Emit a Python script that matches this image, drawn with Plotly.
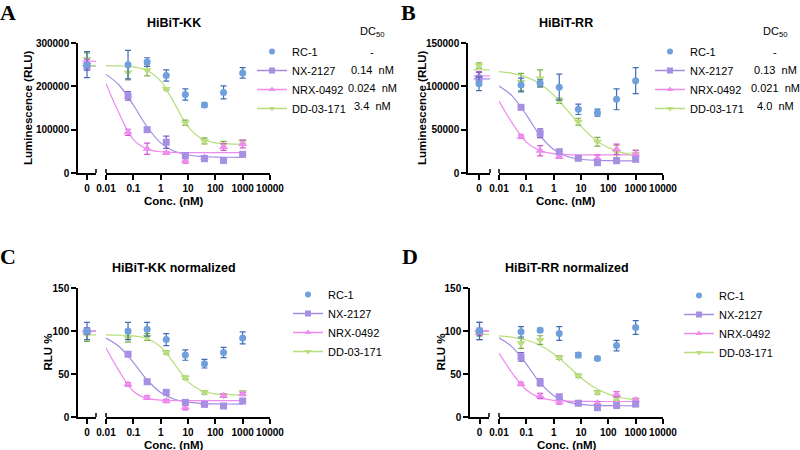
import plotly.graph_objects as go

W, H = 800, 450

# concentrations (nM); the first one (0) sits on the short left axis segment
conc = [0, 0.064, 0.32, 1.6, 8, 40, 200, 1000]
fit_conc = [0.01, 0.03, 0.1, 0.3, 1, 3, 10, 30, 100, 300, 1000]
fit_left_x = [-0.5, 1.0]
compounds = ["RC-1", "NX-2127", "NRX-0492", "DD-03-171"]

# ---- A: HiBiT-KK (RLU)
kk_rc1 = [250000, 250000, 256000, 225000, 181000, 157000, 186000, 231000]
kk_rc1_sd = [30000, 33000, 10000, 13000, 13000, 5000, 15000, 12000]
kk_nx = [245000, 178000, 100000, 71000, 40000, 33000, 29000, 43000]
kk_nx_sd = [8000, 10000, 4000, 14000, 6000, 3000, 3000, 3000]
kk_nrx = [256000, 94000, 56000, 46000, 29000, 36000, 60000, 67000]
kk_nrx_sd = [6000, 7000, 13000, 3000, 6000, 4000, 8000, 9000]
kk_dd = [263000, 232000, 237000, 194000, 116000, 74000, 65000, 72000]
kk_dd_sd = [14000, 17000, 13000, 3000, 6000, 7000, 8000, 4000]
kk_fit_nx = [227600, 203000, 157000, 109000, 69500, 50600, 41500, 38200, 36800, 36300, 36100]
kk_fit_nrx = [206000, 138000, 77500, 55700, 49000, 47500, 47100, 47000, 47000, 47000, 47000]
kk_fit_dd = [248000, 247200, 245000, 237500, 212000, 163500, 106800, 79800, 69600, 67300, 66300]
kk_fit_top = [247000, 258000, 248000]
kk_dc50 = ["-", "0.14\u00a0\u00a0nM", "0.024\u00a0\u00a0nM", "3.4\u00a0\u00a0nM"]

# ---- B: HiBiT-RR (RLU)
rr_rc1 = [103000, 101500, 103500, 99000, 73500, 69600, 85000, 106500]
rr_rc1_sd = [8000, 8000, 4000, 15000, 6000, 4000, 12000, 15000]
rr_nx = [109000, 75800, 45800, 24600, 17000, 11900, 14200, 15800]
rr_nx_sd = [7000, 2000, 5000, 2000, 2000, 3000, 3000, 2000]
rr_nrx = [112000, 41900, 25700, 18800, 17000, 17000, 27300, 22000]
rr_nrx_sd = [5000, 2000, 6000, 2000, 2000, 4000, 6000, 4000]
rr_dd = [124000, 105000, 109000, 83400, 59200, 36000, 24000, 22000]
rr_dd_sd = [3000, 10000, 10000, 3000, 4000, 5000, 8000, 4000]
rr_fit_nx = [100400, 89000, 67000, 44400, 27100, 19300, 15900, 14700, 14300, 14100, 14000]
rr_fit_nrx = [83100, 57900, 35600, 26100, 22300, 21300, 20900, 20800, 20800, 20800, 20800]
rr_fit_dd = [117000, 115000, 110600, 103200, 89800, 73200, 53900, 39400, 29100, 23800, 20700]
rr_fit_top = [108500, 112000, 119000]
rr_dc50 = ["-", "0.13\u00a0\u00a0nM", "0.021\u00a0\u00a0nM", "4.0\u00a0\u00a0nM"]

# ---- C: HiBiT-KK normalized (%)
kkn_rc1 = [100, 100, 102, 90, 72, 62, 75, 92]
kkn_rc1_sd = [10, 10, 8, 7, 6, 5, 6, 7]
kkn_nx = [100, 73, 41, 28.7, 17, 14.7, 12.8, 18.6]
kkn_nx_sd = [4, 2, 2, 3, 2, 2, 2, 2]
kkn_nrx = [100, 38, 22.5, 18.6, 11.2, 16, 24.8, 26.7]
kkn_nrx_sd = [3, 2, 2, 2, 3, 2, 2, 2]
kkn_dd = [96, 92, 93, 75, 45.7, 28.7, 25, 28.7]
kkn_dd_sd = [8, 5, 4, 2, 2, 2, 2, 2]
kkn_fit_nx = [91.8, 81.9, 63.5, 44.2, 28.4, 20.9, 17.2, 15.9, 15.3, 15.1, 15.05]
kkn_fit_nrx = [80.3, 53.7, 30, 21.9, 19.6, 19.1, 19, 19, 19, 19, 19]
kkn_fit_dd = [95.5, 95.2, 94.3, 91.4, 81.7, 63, 41.2, 30.8, 26.9, 26, 25.6]
kkn_fit_top = [100, 100, 95.5]

# ---- D: HiBiT-RR normalized (%)
rrn_rc1 = [100, 99, 101, 97, 72, 68, 83, 104]
rrn_rc1_sd = [10, 6, 2, 8, 3, 2, 6, 8]
rrn_nx = [100, 70, 40.3, 23.6, 16, 10.8, 13.4, 15]
rrn_nx_sd = [10, 5, 4, 2, 2, 3, 2, 2]
rrn_nrx = [99, 38.4, 24.4, 17.8, 16, 16, 26.4, 19.8]
rrn_nrx_sd = [4, 2, 3, 3, 2, 2, 3, 2]
rrn_dd = [97, 85.7, 89.5, 69, 48, 28.7, 21.7, 19.8]
rrn_dd_sd = [3, 6, 5, 2, 2, 2, 2, 2]
rrn_fit_nx = [92.1, 81.6, 61.6, 40.8, 25, 17.9, 14.7, 13.6, 13.2, 13.1, 13]
rrn_fit_nrx = [74.2, 51.4, 31.4, 22.8, 19.4, 18.5, 18.2, 18.1, 18, 18, 18]
rrn_fit_dd = [94.4, 92.9, 89.5, 83.8, 73.5, 60.7, 45.7, 34.5, 26.6, 22.4, 20.1]
rrn_fit_top = [100, 100, 96]

log_ticks = [0.01, 0.1, 1, 10, 100, 1000, 10000]
log_ticktext = ["0.01", "0.1", "1", "10", "100", "1000", "10000"]

# styles
SYM = {"RC-1": "circle", "NX-2127": "square", "NRX-0492": "triangle-up", "DD-03-171": "triangle-down"}
MCOL = {"RC-1": "#6F9FDC", "NX-2127": "#A78FE3", "NRX-0492": "#F08CF0", "DD-03-171": "#BADF7E"}
ECOL = {"RC-1": "#3F6DB6", "NX-2127": "#7D5FC4", "NRX-0492": "#D455D4", "DD-03-171": "#7CAE48"}
LCOL = {"NX-2127": "#A28DE2", "NRX-0492": "#EF8AEF", "DD-03-171": "#B6DE7A"}
MSIZE = {"RC-1": 7, "NX-2127": 7, "NRX-0492": 8, "DD-03-171": 8}

SANS = "Arial, Liberation Sans, sans-serif"
SERIF = "Times New Roman, Liberation Serif, serif"


def px(x):
    return x / W


def py(y):
    return 1 - y / H


def ax(prefix, n):
    # plotly names the first axis "x"/"y", then "x2", "x3", ...
    return prefix if n == 1 else "%s%d" % (prefix, n)


def label(text, x, y, size, family=SANS, angle=0):
    return dict(text=text, x=px(x), y=py(y), xref="paper", yref="paper", showarrow=False,
                xanchor="center", yanchor="middle", textangle=angle,
                font=dict(family=family, size=size, color="black"))


panels = [
    dict(letter="A", title="HiBiT-KK", ytitle="Luminescence (RLU)",
         yticks=[0, 100000, 200000, 300000],
         means=[kk_rc1, kk_nx, kk_nrx, kk_dd], sds=[kk_rc1_sd, kk_nx_sd, kk_nrx_sd, kk_dd_sd],
         fits=[kk_fit_nx, kk_fit_nrx, kk_fit_dd], tops=kk_fit_top, dc50=kk_dc50,
         g=dict(yx=78, lend=96, rstart=106, rend=270, ytop=43, ybot=173, ytl=28,
                leg=252, legy=37, dcx=372, lx=8, ly=13)),
    dict(letter="B", title="HiBiT-RR", ytitle="Luminescence (RLU)",
         yticks=[0, 50000, 100000, 150000],
         means=[rr_rc1, rr_nx, rr_nrx, rr_dd], sds=[rr_rc1_sd, rr_nx_sd, rr_nrx_sd, rr_dd_sd],
         fits=[rr_fit_nx, rr_fit_nrx, rr_fit_dd], tops=rr_fit_top, dc50=rr_dc50,
         g=dict(yx=468, lend=490, rstart=499, rend=663, ytop=43, ybot=173, ytl=422,
                leg=650, legy=37, dcx=775, lx=408, ly=13)),
    dict(letter="C", title="HiBiT-KK normalized", ytitle="RLU %",
         yticks=[0, 50, 100, 150],
         means=[kkn_rc1, kkn_nx, kkn_nrx, kkn_dd], sds=[kkn_rc1_sd, kkn_nx_sd, kkn_nrx_sd, kkn_dd_sd],
         fits=[kkn_fit_nx, kkn_fit_nrx, kkn_fit_dd], tops=kkn_fit_top, dc50=None,
         g=dict(yx=78, lend=96, rstart=106, rend=270, ytop=288, ybot=417, ytl=47,
                leg=288, legy=280, dcx=None, lx=8, ly=256)),
    dict(letter="D", title="HiBiT-RR normalized", ytitle="RLU %",
         yticks=[0, 50, 100, 150],
         means=[rrn_rc1, rrn_nx, rrn_nrx, rrn_dd], sds=[rrn_rc1_sd, rrn_nx_sd, rrn_nrx_sd, rrn_dd_sd],
         fits=[rrn_fit_nx, rrn_fit_nrx, rrn_fit_dd], tops=rrn_fit_top, dc50=None,
         g=dict(yx=470, lend=489, rstart=499, rend=663, ytop=288, ybot=417, ytl=440,
                leg=679, legy=281, dcx=None, lx=410, ly=256)),
]

fig = go.Figure()
annotations = []
shapes = []
layout = {}

for i, p in enumerate(panels):
    g = p["g"]
    nl, nr, ny = 2 * i + 1, 2 * i + 2, i + 1
    xl, xr, yy = ax("x", nl), ax("x", nr), ax("y", ny)
    legname = ax("legend", i + 1)
    ymax = p["yticks"][-1]

    axis_common = dict(showline=True, linecolor="black", linewidth=1.5, ticks="outside",
                       ticklen=5, tickwidth=1.5, tickcolor="black", showgrid=False,
                       zeroline=False, tickangle=0, automargin=False,
                       tickfont=dict(family=SANS, size=10, color="black", weight="bold"))

    layout[ax("xaxis", nl)] = dict(axis_common, domain=[px(g["yx"]), px(g["lend"])],
                                   range=[-1, 1], tickvals=[0], ticktext=["0"], anchor=yy)
    layout[ax("xaxis", nr)] = dict(axis_common, domain=[px(g["rstart"]), px(g["rend"])],
                                   type="log", range=[-2, 4], tickvals=log_ticks,
                                   ticktext=log_ticktext, anchor=yy)
    layout[ax("yaxis", ny)] = dict(axis_common, domain=[py(g["ybot"]), py(g["ytop"])],
                                   range=[0, ymax], tickvals=p["yticks"],
                                   ticktext=[str(v) for v in p["yticks"]], anchor=xl)

    # fitted curves
    for name, fit, top in zip(compounds[1:], p["fits"], p["tops"]):
        fig.add_trace(go.Scatter(x=fit_conc, y=fit, mode="lines", xaxis=xr, yaxis=yy,
                                 line=dict(color=LCOL[name], width=1.2, shape="spline"),
                                 showlegend=False, hoverinfo="skip"))
        fig.add_trace(go.Scatter(x=fit_left_x, y=[top, top], mode="lines", xaxis=xl, yaxis=yy,
                                 line=dict(color=LCOL[name], width=1.2),
                                 showlegend=False, hoverinfo="skip"))

    # data points, drawn back to front
    for k in [3, 2, 1, 0]:
        name = compounds[k]
        m = p["means"][k]
        s = p["sds"][k]
        mk = dict(symbol=SYM[name], color=MCOL[name], size=MSIZE[name], line=dict(width=0))
        err = dict(color=ECOL[name], thickness=1.2, width=3)
        fig.add_trace(go.Scatter(x=conc[:1], y=m[:1], mode="markers", xaxis=xl, yaxis=yy,
                                 marker=mk, error_y=dict(err, type="data", array=s[:1]),
                                 showlegend=False, cliponaxis=False))
        fig.add_trace(go.Scatter(x=conc[1:], y=m[1:], mode="markers", xaxis=xr, yaxis=yy,
                                 marker=mk, error_y=dict(err, type="data", array=s[1:]),
                                 showlegend=False, cliponaxis=False))

    # legend entries
    for name in compounds:
        fig.add_trace(go.Scatter(x=[None], y=[None], xaxis=xr, yaxis=yy, name=name,
                                 mode="markers" if name == "RC-1" else "lines+markers",
                                 marker=dict(symbol=SYM[name], color=MCOL[name], size=6),
                                 line=dict(color=LCOL.get(name, MCOL[name]), width=1.5),
                                 legend=legname))
    layout[legname] = dict(x=px(g["leg"]), y=py(g["legy"]), xanchor="left", yanchor="top",
                           font=dict(family=SANS, size=11, color="black"),
                           bgcolor="rgba(0,0,0,0)", borderwidth=0, tracegroupgap=0)

    # axis break end bars
    shapes.append(dict(type="line", xref=xl + " domain", x0=1, x1=1, yref=yy,
                       ysizemode="pixel", yanchor=0, y0=-4, y1=4,
                       line=dict(color="black", width=1.5)))
    shapes.append(dict(type="line", xref=xr + " domain", x0=0, x1=0, yref=yy,
                       ysizemode="pixel", yanchor=0, y0=-4, y1=4,
                       line=dict(color="black", width=1.5)))

    # texts
    cx = (g["yx"] + g["rend"]) / 2
    annotations.append(label("<b>%s</b>" % p["title"], cx, g["ytop"] - 20, 12.5))
    annotations.append(label("<b>%s</b>" % p["ytitle"], g["ytl"], (g["ytop"] + g["ybot"]) / 2,
                             11.5, angle=-90))
    annotations.append(label("<b>Conc. (nM)</b>", cx, g["ybot"] + 28, 11.5))
    annotations.append(label("<b>%s</b>" % p["letter"], g["lx"], g["ly"], 22, family=SERIF))
    if p["dc50"]:
        annotations.append(label("DC<sub>50</sub>", g["dcx"], 32, 11))
        for r, t in enumerate(p["dc50"]):
            annotations.append(label(t, g["dcx"], 52 + 18 * r, 11))

fig.update_layout(**layout)
fig.update_layout(template="none", width=W, height=H,
                  margin=dict(l=0, r=0, t=0, b=0, pad=0, autoexpand=False),
                  plot_bgcolor="white", paper_bgcolor="white",
                  annotations=annotations, shapes=shapes,
                  font=dict(family=SANS, color="black"))

# the page body has a default 8px margin; drop it so the figure fills the window
fig.write_html("out.html", config={"displayModeBar": False},
               post_script="document.body.style.margin='0';")
